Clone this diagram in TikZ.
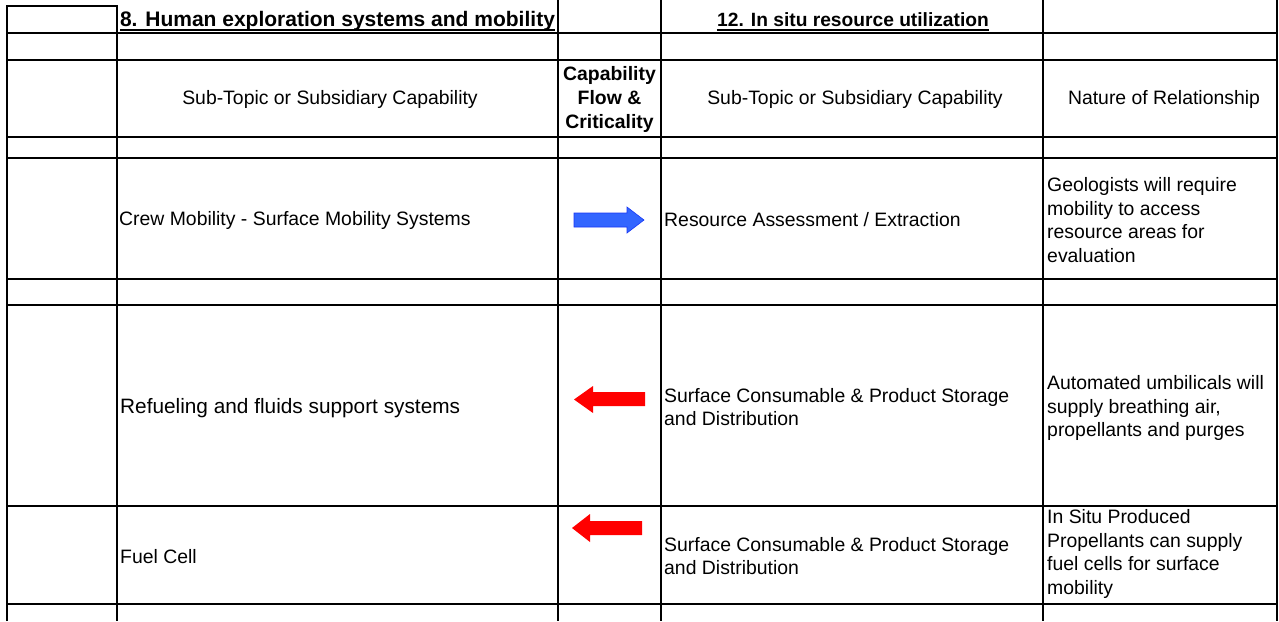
\documentclass[tikz,border=0pt]{standalone}
\usepackage{fontspec}
\setmainfont{Liberation Sans}
\definecolor{flowblue}{RGB}{51,102,255}
\definecolor{flowblueline}{RGB}{25,55,245}
\begin{document}
\begin{tikzpicture}[x=1pt,y=-1pt,
  rule/.style={line width=2.8pt},
  cell/.style={inner sep=0pt,font=\fontsize{19.4}{23.4}\selectfont},
  lcell/.style={cell,anchor=west,align=left},
  head/.style={inner sep=0pt,anchor=base,font=\fontsize{21}{25}\selectfont\bfseries}]
	\useasboundingbox (0,0) rectangle (1279,621);
	% grid of the sheet
	\draw [rule] (7,621) -- (7,6) -- (117,6) -- (117,621);
	\foreach \x in {558,661,1043,1277}
		\draw [rule] (\x,0) -- (\x,621);
	\foreach \y in {33,60,137,158,279,305,506,604}
		\draw [rule] (7,\y) -- (1277,\y);
	% headings
	\node [head] (hdHuman) at (337.5,27) {8. Human exploration systems and mobility};
	\node [head, font=\fontsize{19.2}{23}\selectfont\bfseries] (hdIsru) at (853,27) {12. In situ resource utilization};
	\draw [line width=2pt] ([yshift=-3pt]hdHuman.base west) -- ([yshift=-3pt]hdHuman.base east);
	\draw [line width=2pt] ([yshift=-3pt]hdIsru.base west) -- ([yshift=-3pt]hdIsru.base east);
	\node [cell] (subL) at (330,99) {Sub-Topic or Subsidiary Capability};
	\node [cell, align=center, font=\fontsize{19.4}{24}\selectfont\bfseries] (flowHd) at (609.5,99) {Capability\\Flow \&\\Criticality};
	\node [cell] (subR) at (855,99) {Sub-Topic or Subsidiary Capability};
	\node [cell] (natHd) at (1164,99) {Nature of Relationship};
	% row: crew mobility
	\node [lcell] (crew) at (119,220) {Crew Mobility - Surface Mobility Systems};
	\filldraw [fill=flowblue, draw=flowblueline, line width=0.6pt] (574,213) -- (627,213) -- (627,207) -- (644,220) -- (627,233) -- (627,227) -- (574,227) -- cycle;
	\node [lcell] (resAss) at (664,220) {Resource Assessment / Extraction};
	\node [lcell] (natCrew) at (1047,220) {Geologists will require\\mobility to access\\resource areas for\\evaluation};
	% row: refueling
	\node [lcell, font=\fontsize{20.8}{25}\selectfont] (refuel) at (120,408) {Refueling and fluids support systems};
	\fill [red] (645,392) -- (593,392) -- (593,386) -- (574,399.5) -- (593,413) -- (593,406) -- (645,406) -- cycle;
	\node [lcell] (storA) at (664,407) {Surface Consumable \& Product Storage\\and Distribution};
	\node [lcell] (natRefuel) at (1047,408) {Automated umbilicals will\\supply breathing air,\\propellants and purges};
	% row: fuel cell
	\node [lcell] (fuel) at (120,557) {Fuel Cell};
	\fill [red] (642,521) -- (590,521) -- (590,514) -- (572,528) -- (590,542) -- (590,535) -- (642,535) -- cycle;
	\node [lcell] (storB) at (664,556) {Surface Consumable \& Product Storage\\and Distribution};
	\node [lcell] (natFuel) at (1047,554) {In Situ Produced\\Propellants can supply\\fuel cells for surface\\mobility};
\end{tikzpicture}
\end{document}
